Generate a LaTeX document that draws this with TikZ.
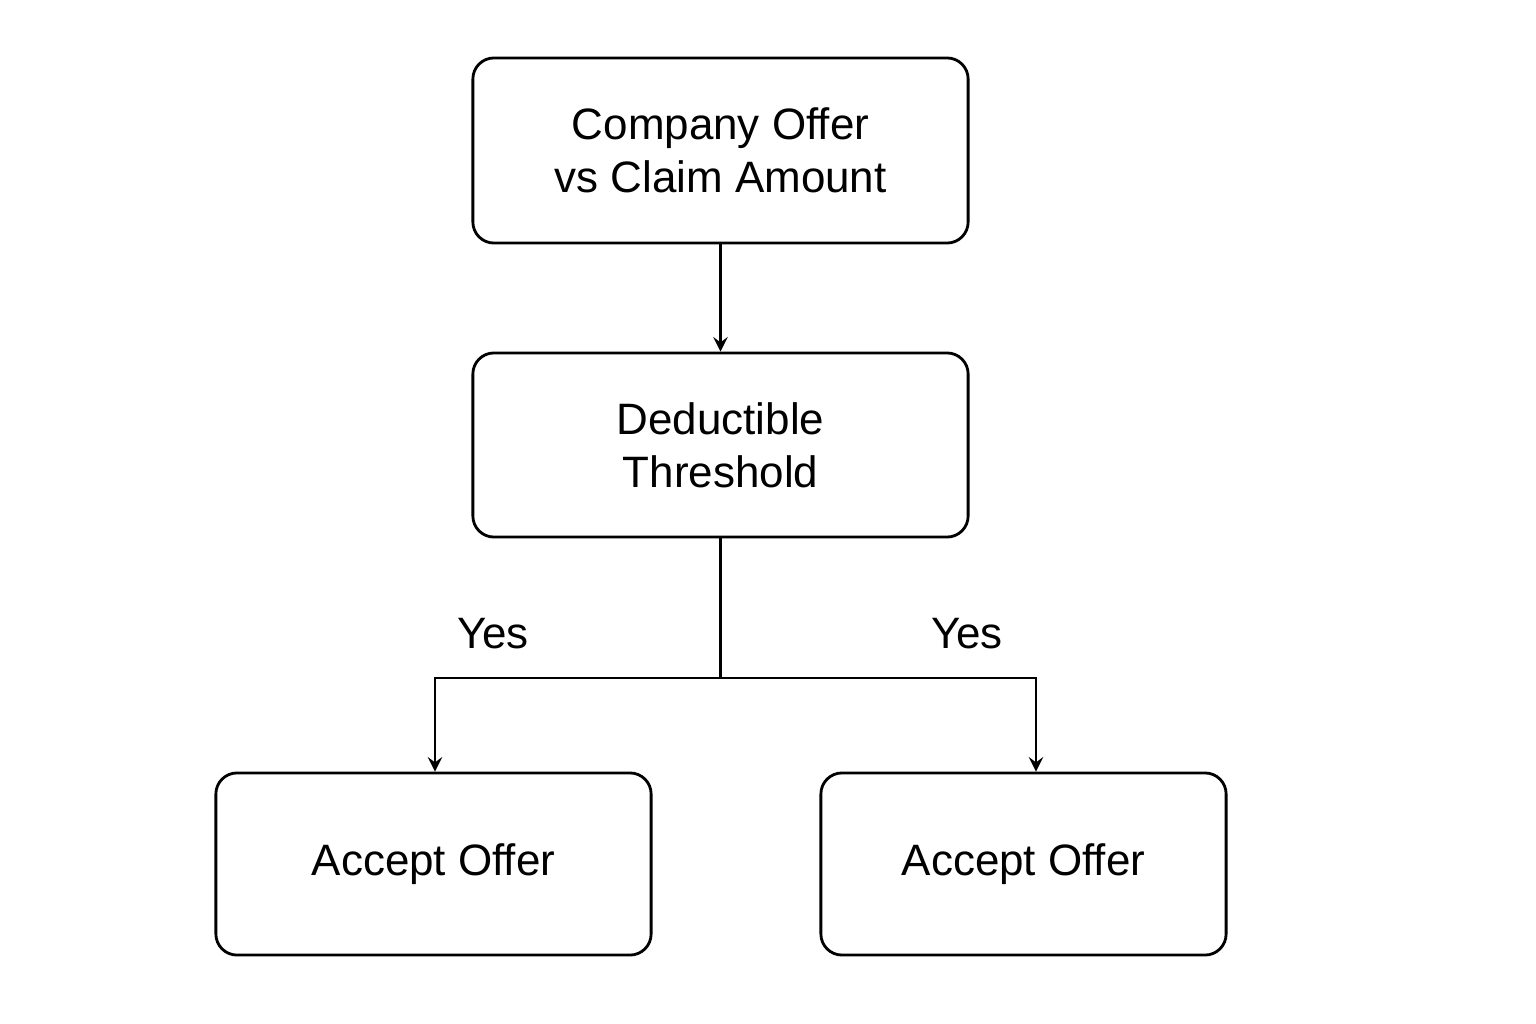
\documentclass[tikz,border=0pt]{standalone}
\usepackage{fontspec}
\setmainfont{Liberation Sans}
\usetikzlibrary{calc}
\tikzset{
  stepbox/.style={draw,thick,rounded corners=6pt,align=center,font=\fontsize{12.5}{15}\selectfont},
  flow/.style={->,thick,>=stealth}
}
\begin{document}
\begin{tikzpicture}[x=0.01cm,y=-0.01cm]
          \useasboundingbox (0,0) rectangle (1536,1024);
          \node[stepbox,minimum width=4.95cm,minimum height=1.85cm] (offer) at (720.5,150.5) {Company Offer\\vs Claim Amount};
          \node[stepbox,minimum width=4.95cm,minimum height=1.84cm] (deduct) at (720.5,445) {Deductible\\Threshold};
          \node[stepbox,minimum width=4.35cm,minimum height=1.82cm] (acceptl) at (433.5,864) {Accept Offer};
          \node[stepbox,minimum width=4.05cm,minimum height=1.82cm] (acceptr) at (1023.5,864) {Accept Offer};
          \coordinate (split) at (720.5,678);
          % pijlen
          \draw[flow] (offer) -- (deduct);
          \draw[thick] (deduct) -- (split);
          \draw[flow] (split) -| (acceptl.north -| 435,0);
          \draw[flow] (split) -| (acceptr.north -| 1036,0);
          \node[font=\fontsize{12.5}{15}\selectfont] (yesl) at (493,634) {Yes};
          \node[font=\fontsize{12.5}{15}\selectfont] (yesr) at (967,634) {Yes};
\end{tikzpicture}
\end{document}
